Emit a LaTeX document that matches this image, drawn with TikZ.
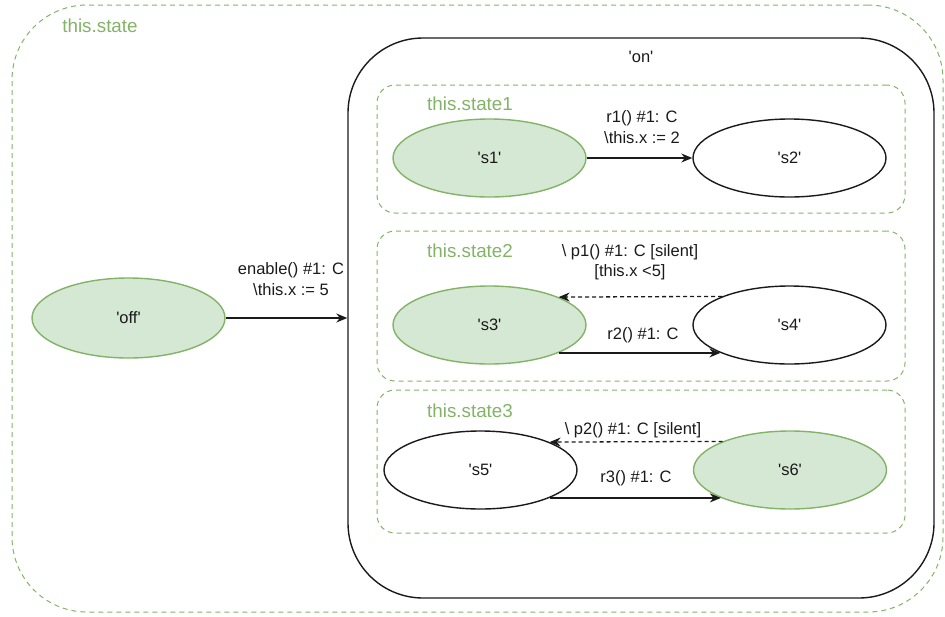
\documentclass[tikz,border=0pt]{standalone}
\usepackage{fontspec}
\newfontfamily\diagfont{Liberation Sans}
\usetikzlibrary{arrows.meta,shapes.geometric}
\definecolor{grfill}{HTML}{D5E8D4}
\definecolor{grline}{HTML}{82B366}
\definecolor{ink}{HTML}{1A1A1A}
\tikzset{
  region/.style={draw=grline, dashed, dash pattern=on 5pt off 4pt, line width=1pt,
    rectangle, rounded corners=#1, inner sep=0pt},
  statebox/.style={rectangle, draw=ink, line width=1.4pt, rounded corners=75pt, inner sep=0pt},
  st/.style={ellipse, draw=ink, line width=1.4pt, fill=white, minimum width=193pt,
    minimum height=78pt, inner sep=0pt, text=ink, font=\diagfont\fontsize{16.5}{20}\selectfont},
  init/.style={st, draw=grline, fill=grfill},
  regionlabel/.style={text=grline, font=\diagfont\fontsize{18.8}{22}\selectfont, inner sep=0pt},
  lbl/.style={text=ink, font=\diagfont\fontsize{16.5}{20.5}\selectfont, align=center, inner sep=0pt},
  trans/.style={draw=ink, line width=1.3pt, -{Stealth[length=11pt,width=9pt]}},
  silent/.style={trans, dashed, dash pattern=on 4pt off 3pt}
}
\begin{document}
\begin{tikzpicture}[x=1pt,y=-1pt]
\useasboundingbox (0,0) rectangle (945,616);

% outer region
\node[region=75pt, minimum width=931pt, minimum height=607pt] (top) at (477.5,308.5) {};
\node[regionlabel] (toplbl) at (100,26) {this.state};

% composite state 'on'
\node[statebox, minimum width=586pt, minimum height=560pt] (on) at (641,318) {};
\node[lbl] (onlbl) at (641,57) {'on'};

% three orthogonal regions
\node[region=18pt, minimum width=528pt, minimum height=128pt] (r1box) at (641,149) {};
\node[region=18pt, minimum width=528pt, minimum height=150pt] (r2box) at (641,306) {};
\node[region=18pt, minimum width=528pt, minimum height=143pt] (r3box) at (641,461.5) {};
\node[regionlabel] (r1lbl) at (470,104) {this.state1};
\node[regionlabel] (r2lbl) at (470,251) {this.state2};
\node[regionlabel] (r3lbl) at (470,411) {this.state3};

% states
\node[init, minimum height=80pt] (off) at (128.5,318) {'off'};
\node[init] (s1) at (489.5,158) {'s1'};
\node[st]   (s2) at (789.5,158) {'s2'};
\node[init] (s3) at (489.5,325) {'s3'};
\node[st]   (s4) at (789.5,325) {'s4'};
\node[st]   (s5) at (480.5,470) {'s5'};
\node[init] (s6) at (790,470) {'s6'};

% transitions
\draw[trans] (off.east) -- (on.west);
\node[lbl] (enlbl) at (291,279) {enable() \#1: C\\\textbackslash this.x := 5};

\draw[trans] (s1.east) -- (s2.west);
\node[lbl] (r1t) at (642,127) {r1() \#1: C\\\textbackslash this.x := 2};

\draw[silent] (s4.157.4) -- (s3.22.6);
\node[lbl] (p1t) at (630,262) {\textbackslash\ p1() \#1: C [silent]\\{}[this.x <5]};
\draw[trans] (s3.-22.6) -- (s4.202.6);
\node[lbl] (r2t) at (643,335) {r2() \#1: C};

\draw[silent] (s6.157.4) -- (s5.22.6);
\node[lbl] (p2t) at (633,430) {\textbackslash\ p2() \#1: C [silent]};
\draw[trans] (s5.-22.6) -- (s6.202.6);
\node[lbl] (r3t) at (636,478) {r3() \#1: C};
\end{tikzpicture}
\end{document}
